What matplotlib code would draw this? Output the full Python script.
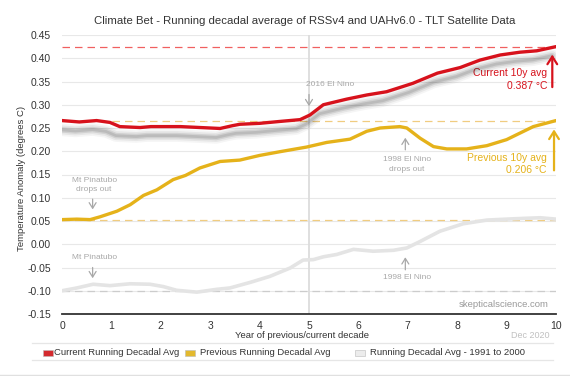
import matplotlib
matplotlib.use('Agg')
import matplotlib.pyplot as plt
import matplotlib.patheffects as pe
from matplotlib.patches import Rectangle
from matplotlib.lines import Line2D

plt.rcParams['font.family'] = ['Liberation Sans', 'DejaVu Sans']

# ---------------- data ----------------
TITLE = "Climate Bet - Running decadal average of RSSv4 and UAHv6.0 - TLT Satellite Data"
X_LABEL = "Year of previous/current decade"
Y_LABEL = "Temperature Anomaly (degrees C)"
X_TICKS = [0, 1, 2, 3, 4, 5, 6, 7, 8, 9, 10]
Y_TICKS = [-0.15, -0.10, -0.05, 0.00, 0.05, 0.10, 0.15, 0.20, 0.25, 0.30, 0.35, 0.40, 0.45]
LEGEND_LABELS = ["Current Running Decadal Avg", "Previous Running Decadal Avg",
                 "Running Decadal Avg - 1991 to 2000"]

current_x = [0, 0.35, 0.7, 0.97, 1.17, 1.58, 1.8, 2.4, 2.8, 3.2, 3.45, 3.6, 4.0, 4.4,
             4.82, 5.02, 5.29, 5.76, 6.17, 6.57, 7.1, 7.6, 8.06, 8.46, 8.87, 9.27, 9.61, 10.0]
current_y = [0.266, 0.263, 0.266, 0.262, 0.253, 0.251, 0.253, 0.253, 0.251, 0.249, 0.255,
             0.258, 0.260, 0.264, 0.268, 0.278, 0.300, 0.312, 0.321, 0.328, 0.346, 0.368,
             0.380, 0.396, 0.407, 0.413, 0.416, 0.425]

previous_x = [0, 0.3, 0.57, 0.77, 1.11, 1.38, 1.65, 1.92, 2.25, 2.5, 2.79, 3.2, 3.6, 4.0,
              4.41, 4.95, 5.36, 5.83, 6.17, 6.44, 6.84, 6.98, 7.25, 7.52, 7.79, 8.19, 8.6,
              9.0, 9.27, 9.54, 10.0]
previous_y = [0.053, 0.054, 0.053, 0.059, 0.071, 0.085, 0.105, 0.117, 0.139, 0.148, 0.164,
              0.178, 0.181, 0.191, 0.199, 0.209, 0.219, 0.226, 0.243, 0.250, 0.253, 0.250,
              0.228, 0.210, 0.205, 0.205, 0.212, 0.225, 0.239, 0.253, 0.266]

baseline_x = [0, 0.3, 0.63, 0.97, 1.38, 1.78, 2.05, 2.32, 2.73, 3.13, 3.4, 3.81, 4.21, 4.62,
              4.88, 5.09, 5.29, 5.56, 5.9, 6.3, 6.71, 6.98, 7.25, 7.65, 8.12, 8.6, 9.2, 9.68, 10.0]
baseline_y = [-0.100, -0.094, -0.086, -0.089, -0.085, -0.086, -0.091, -0.099, -0.103, -0.097,
              -0.094, -0.082, -0.069, -0.051, -0.034, -0.033, -0.027, -0.022, -0.011, -0.015,
              -0.013, -0.008, 0.006, 0.028, 0.044, 0.052, 0.055, 0.057, 0.054]

EVENT_X = 5  # vertical marker line

# annotations: (text, text_x, text_y, arrow_x, arrow_tail_y, arrow_head_y)
NOTES = [
    ("2016 El Nino", 5.43, 0.343, 5.0, 0.328, 0.291),
    ("1998 El Nino\ndrops out", 6.98, 0.171, 6.95, 0.197, 0.235),
    ("Mt Pinatubo\ndrops out", 0.65, 0.127, 0.62, 0.103, 0.069),
    ("Mt Pinatubo", 0.65, -0.029, 0.62, -0.044, -0.079),
    ("1998 El Nino", 6.98, -0.071, 6.95, -0.061, -0.022),
]
CURRENT_LABEL = ["Current 10y avg", "0.387 °C"]
PREVIOUS_LABEL = ["Previous 10y avg", "0.206 °C"]

RED = '#d7121c'
GOLD = '#e5b21a'
LGREY = '#e4e4e4'

# ---------------- figure ----------------
W, H = 570, 376
fig = plt.figure(figsize=(W / 100, H / 100), dpi=100)
ax = fig.add_axes([62 / W, 1 - 314 / H, (556 - 62) / W, (314 - 35) / H])
ax.set_xlim(0, 10)
ax.set_ylim(-0.15, 0.45)

for s in ['top', 'right', 'left']:
    ax.spines[s].set_visible(False)
ax.spines['bottom'].set_color('#333333')
ax.spines['bottom'].set_linewidth(1.3)
ax.spines['bottom'].set_zorder(6)

ax.set_xticks(X_TICKS)
ax.set_yticks(Y_TICKS)
ax.set_xticklabels([str(t) for t in X_TICKS])
ax.set_yticklabels(['%.2f' % t for t in Y_TICKS])
ax.tick_params(axis='both', length=0, labelsize=7.5, colors='#333333')
ax.tick_params(axis='y', pad=8)
ax.tick_params(axis='x', pad=5)
ax.grid(axis='y', color='#e8e8e8', linewidth=0.8)
ax.set_axisbelow(True)

# vertical marker
ax.axvline(EVENT_X, color='#dcdcdc', linewidth=1.3, zorder=1)

# dashed reference levels
dash = (0, (6, 4))
ax.axhline(current_y[-1], color='#f06060', linewidth=0.9, linestyle=dash, zorder=2)
ax.axhline(previous_y[-1], color='#f0cc80', linewidth=0.9, linestyle=dash, zorder=2)
ax.axhline(previous_y[0], color='#f0cc80', linewidth=0.9, linestyle=dash, zorder=2)
ax.axhline(baseline_y[0], color='#cccccc', linewidth=0.9, linestyle=dash, zorder=2)

# series
ax.plot(baseline_x, baseline_y, color=LGREY, linewidth=2.6, zorder=3,
        solid_capstyle='round', solid_joinstyle='round')
ax.plot(previous_x, previous_y, color=GOLD, linewidth=2.4, zorder=4,
        solid_capstyle='round', solid_joinstyle='round')
shadow = [
    pe.SimpleLineShadow(offset=(-2.8, -6.5), shadow_color='#000000', alpha=0.04, rho=1, linewidth=9),
    pe.SimpleLineShadow(offset=(-2.8, -6.5), shadow_color='#000000', alpha=0.06, rho=1, linewidth=6.5),
    pe.SimpleLineShadow(offset=(-2.8, -6.5), shadow_color='#000000', alpha=0.09, rho=1, linewidth=4),
    pe.SimpleLineShadow(offset=(-2.8, -6.5), shadow_color='#000000', alpha=0.10, rho=1, linewidth=2),
    pe.Normal(),
]
ax.plot(current_x, current_y, color=RED, linewidth=2.4, zorder=5,
        solid_capstyle='round', solid_joinstyle='round', path_effects=shadow)

# grey annotations
for txt, tx, ty, axx, t0, t1 in NOTES:
    ax.text(tx, ty, txt, ha='center', va='center', fontsize=6, color='#a8a8a8',
            linespacing=1.5, zorder=7)
    ax.annotate('', xy=(axx, t1), xytext=(axx, t0),
                arrowprops=dict(arrowstyle='->,head_width=0.25,head_length=0.4',
                                color='#a8a8a8', lw=0.9), zorder=7)

# end-value labels and arrows
ax.annotate('', xy=(9.925, 0.414), xytext=(9.925, 0.332),
            arrowprops=dict(arrowstyle='->,head_width=0.35,head_length=0.55',
                            color=RED, lw=1.6), zorder=8)
ax.text(9.82, 0.368, CURRENT_LABEL[0], ha='right', va='center', fontsize=7.5, color=RED)
ax.text(9.82, 0.341, CURRENT_LABEL[1], ha='right', va='center', fontsize=7.5, color=RED)

ax.annotate('', xy=(9.96, 0.253), xytext=(9.96, 0.153),
            arrowprops=dict(arrowstyle='->,head_width=0.35,head_length=0.55',
                            color=GOLD, lw=1.6), zorder=8)
ax.text(9.81, 0.185, PREVIOUS_LABEL[0], ha='right', va='center', fontsize=7.5, color=GOLD)
ax.text(9.81, 0.159, PREVIOUS_LABEL[1], ha='right', va='center', fontsize=7.5, color=GOLD)

ax.text(9.84, -0.130, "skepticalscience.com", ha='right', va='center', fontsize=6.8,
        color='#999999')

# titles / labels
fig.text(304.5 / W, 1 - 21 / H, TITLE, ha='center', va='center', fontsize=8.2, color='#333333')
fig.text(302 / W, 1 - 335 / H, X_LABEL, ha='center', va='center', fontsize=6.8, color='#333333')
fig.text(22 / W, 1 - 178 / H, Y_LABEL, ha='center', va='center', rotation=90,
         fontsize=6.8, color='#333333')
fig.text(530 / W, 1 - 336 / H, "Dec 2020", ha='center', va='center', fontsize=6.5,
         color='#c0c0c0')

# legend (manual)
fig.add_artist(Line2D([32 / W, 553 / W], [1 - 343.3 / H] * 2, color='#e6e6e6', lw=0.9))
fig.add_artist(Line2D([32 / W, 553 / W], [1 - 360 / H] * 2, color='#e6e6e6', lw=0.9))
fig.add_artist(Line2D([0, 1], [1 - 375 / H] * 2, color='#e0e0e0', lw=1.0))
leg_colors = ['#d42a2e', '#e3b92e', '#ececec']
leg_patch_x = [43, 185, 355]
leg_text_x = [53.5, 200, 370]
for lab, col, px, tx in zip(LEGEND_LABELS, leg_colors, leg_patch_x, leg_text_x):
    fig.add_artist(Rectangle((px / W, 1 - 355.5 / H), 10 / W, 6 / H, facecolor=col,
                             edgecolor='#bbbbbb', linewidth=0.4))
    fig.text(tx / W, 1 - 352.7 / H, lab, ha='left', va='center', fontsize=6.8, color='#333333')

fig.savefig('out.png', dpi=100)
